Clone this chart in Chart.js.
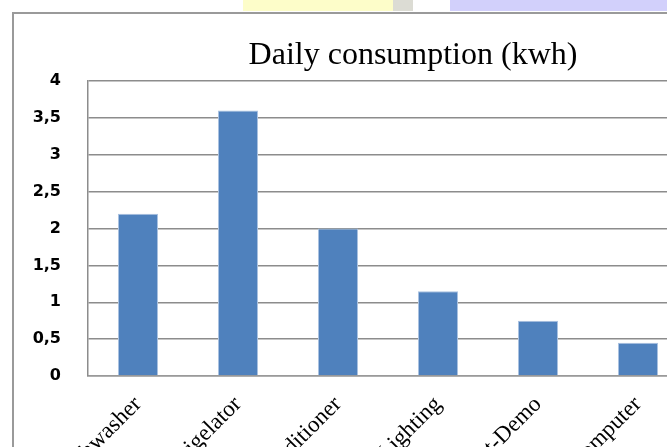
<!DOCTYPE html>
<html>
<head>
<meta charset="utf-8">
<script src="https://cdn.jsdelivr.net/npm/chart.js@4"></script>
<style>
  html, body { margin: 0; padding: 0; width: 667px; height: 447px; overflow: hidden; background: #ffffff; }
  .band { position: absolute; top: 0; height: 11px; }
  #frame {
    position: absolute; left: 12px; top: 12px;
    width: 840px; height: 500px;
    border-left: 2px solid #9a9a9a; border-top: 2px solid #9a9a9a;
    background: #ffffff;
  }
  #chart { position: absolute; left: 0; top: 0; }
</style>
</head>
<body>
<div class="band" style="left:243px;width:150px;background:#fdfdc9;"></div>
<div class="band" style="left:393px;width:20px;background:#dcdcd4;"></div>
<div class="band" style="left:450px;width:217px;background:#d2d0fb;"></div>
<div id="frame"><canvas id="chart" width="820" height="480"></canvas></div>
<script>
// Appliances and their daily energy use
const categories = ['Dishwasher', 'Refrigelator', 'Air conditioner', 'Lighting', 'Set-Demo', 'Computer'];
const dailyKwh = [2.2, 3.6, 2.0, 1.15, 0.75, 0.45];
const yTickLabels = ['0', '0,5', '1', '1,5', '2', '2,5', '3', '3,5', '4'];
const chartTitle = 'Daily consumption (kwh)';

// Title drawn centred over the whole chart frame
const frameTitle = {
  id: 'frameTitle',
  afterDraw(chart) {
    const ctx = chart.ctx;
    ctx.save();
    ctx.font = '32px "Liberation Serif", "Times New Roman", serif';
    ctx.fillStyle = '#000000';
    ctx.textAlign = 'center';
    ctx.textBaseline = 'alphabetic';
    ctx.fillText(chartTitle, 399, 50);
    ctx.restore();
  }
};

new Chart(document.getElementById('chart'), {
  type: 'bar',
  data: {
    labels: categories,
    datasets: [{
      data: dailyKwh,
      backgroundColor: '#4f81bd',
      borderColor: '#a9c1e0',
      borderWidth: 1,
      barPercentage: 0.4,
      categoryPercentage: 1.0
    }]
  },
  options: {
    responsive: false,
    devicePixelRatio: 1,
    animation: false,
    layout: { padding: { top: 67, left: 0, right: 146, bottom: 0 } },
    plugins: {
      legend: { display: false },
      title: { display: false },
      tooltip: { enabled: false }
    },
    scales: {
      x: {
        grid: { display: false, drawTicks: false },
        border: { display: true, color: '#9a9a9a', width: 1.5 },
        ticks: {
          minRotation: 45,
          maxRotation: 45,
          autoSkip: false,
          padding: 15,
          color: '#000000',
          font: { family: '"Liberation Serif", "Times New Roman", serif', size: 23 }
        },
        afterFit(scale) { scale.height = 118; }
      },
      y: {
        min: 0,
        max: 4,
        grid: { color: '#8c8c8c', lineWidth: 1.5, drawTicks: false },
        border: { display: true, color: '#8c8c8c', width: 1.5 },
        ticks: {
          stepSize: 0.5,
          padding: 27,
          color: '#000000',
          font: { family: '"DejaVu Sans", sans-serif', size: 16, weight: 'bold' },
          callback: (value, index) => yTickLabels[index]
        },
        afterFit(scale) { scale.width = 74; }
      }
    }
  },
  plugins: [frameTitle]
});
</script>
</body>
</html>
